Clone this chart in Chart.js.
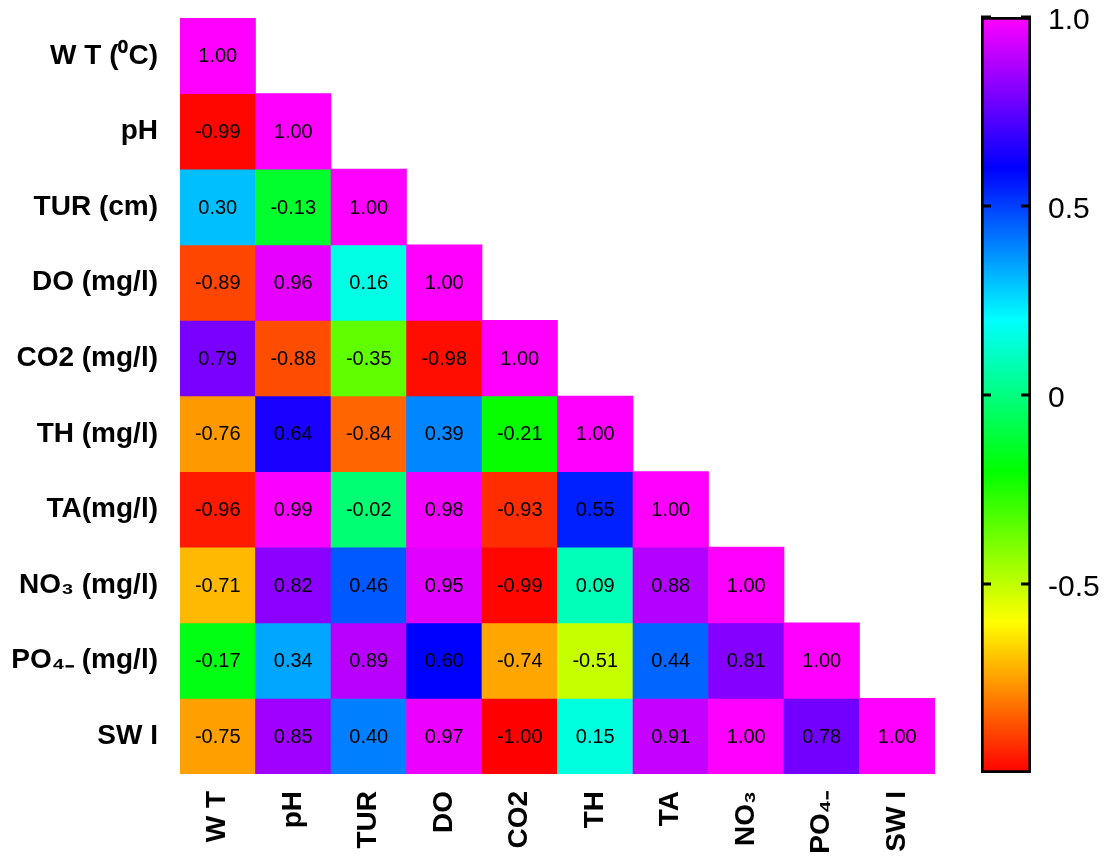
<!DOCTYPE html>
<html>
<head>
<meta charset="utf-8">
<script src="https://cdn.jsdelivr.net/npm/chart.js@4.4.1/dist/chart.umd.min.js"></script>
<style>
    html, body { margin: 0; padding: 0; background: #fff; }
    #wrap { position: relative; width: 1109px; height: 864px; }
    #heat { position: absolute; left: 0; top: 0; }
    #bar { position: absolute; left: 960px; top: 0; }
</style>
</head>
<body>
<div id="wrap">
    <canvas id="heat" width="960" height="864"></canvas>
    <canvas id="bar" width="149" height="864"></canvas>
</div>
<script>
// Row and column names of the correlation matrix
const rowLabels = ['W T (\u2070C)', 'pH', 'TUR (cm)', 'DO (mg/l)', 'CO2 (mg/l)', 'TH (mg/l)',
    'TA(mg/l)', 'NO\u2083 (mg/l)', 'PO\u2084\u208B (mg/l)', 'SW I'];
const colLabels = ['W T', 'pH', 'TUR', 'DO', 'CO2', 'TH', 'TA', 'NO\u2083', 'PO\u2084\u208B', 'SW I'];

// Lower triangle, one array per row
const rWT  = [1.00];
const rPH  = [-0.99, 1.00];
const rTUR = [0.30, -0.13, 1.00];
const rDO  = [-0.89, 0.96, 0.16, 1.00];
const rCO2 = [0.79, -0.88, -0.35, -0.98, 1.00];
const rTH  = [-0.76, 0.64, -0.84, 0.39, -0.21, 1.00];
const rTA  = [-0.96, 0.99, -0.02, 0.98, -0.93, 0.55, 1.00];
const rNO3 = [-0.71, 0.82, 0.46, 0.95, -0.99, 0.09, 0.88, 1.00];
const rPO4 = [-0.17, 0.34, 0.89, 0.60, -0.74, -0.51, 0.44, 0.81, 1.00];
const rSWI = [-0.75, 0.85, 0.40, 0.97, -1.00, 0.15, 0.91, 1.00, 0.78, 1.00];
const matrix = [rWT, rPH, rTUR, rDO, rCO2, rTH, rTA, rNO3, rPO4, rSWI];

// Colour bar ticks
const barTicks = [-0.5, 0, 0.5, 1];

// Rainbow colour map: red (-1) -> yellow -> green -> cyan -> blue -> magenta (1)
const mapStops = [
    [-1.0, [255, 0, 0]],
    [-0.6, [255, 255, 0]],
    [-0.2, [0, 255, 0]],
    [0.2, [0, 255, 255]],
    [0.6, [0, 0, 255]],
    [1.0, [255, 0, 255]]
];

function colorFor(v) {
    for (let k = 1; k < mapStops.length; k++) {
        const [v1, c1] = mapStops[k];
        const [v0, c0] = mapStops[k - 1];
        if (v <= v1 || k === mapStops.length - 1) {
            const t = Math.max(0, Math.min(1, (v - v0) / (v1 - v0)));
            const c = c0.map((x, i) => Math.round(x + (c1[i] - x) * t));
            return `rgb(${c[0]},${c[1]},${c[2]})`;
        }
    }
}

const labelFont = { family: 'Arial, "Liberation Sans", sans-serif', size: 28, weight: 'bold' };

// no extra room for the edge labels, keeps the grid at fixed pixels
function noPad(axis) {
    axis.paddingTop = 0;
    axis.paddingBottom = 0;
    axis.paddingLeft = 0;
    axis.paddingRight = 0;
}

// Each row is a dataset of floating bars spanning [i, i+1]
const datasets = matrix.map((row, i) => ({
    label: rowLabels[i],
    data: colLabels.map((_, j) => j < row.length ? [i, i + 1] : null),
    backgroundColor: colLabels.map((_, j) => j < row.length ? colorFor(row[j]) : 'transparent'),
    borderWidth: 0,
    barPercentage: 1,
    categoryPercentage: 1,
    grouped: false
}));

// Write values inside the cells
const cellText = {
    id: 'cellText',
    afterDatasetsDraw(chart) {
        const ctx = chart.ctx;
        ctx.save();
        ctx.font = '20px Arial, "Liberation Sans", sans-serif';
        ctx.fillStyle = '#000';
        ctx.textAlign = 'center';
        ctx.textBaseline = 'middle';
        matrix.forEach((row, i) => {
            const meta = chart.getDatasetMeta(i);
            row.forEach((v, j) => {
                const pos = meta.data[j].getCenterPoint();
                ctx.fillText(v.toFixed(2), pos.x, pos.y + 1);
            });
        });
        ctx.restore();
    }
};

new Chart(document.getElementById('heat'), {
    type: 'bar',
    data: { labels: colLabels, datasets: datasets },
    options: {
        responsive: false,
        animation: false,
        layout: { padding: { top: 18, right: 25, left: 0, bottom: 0 } },
        plugins: { legend: { display: false }, tooltip: { enabled: false } },
        scales: {
            x: {
                grid: { display: false, drawTicks: false },
                border: { display: false },
                ticks: {
                    color: '#000',
                    font: labelFont,
                    minRotation: 90,
                    maxRotation: 90,
                    autoSkip: false,
                    padding: 17
                },
                afterFit: (axis) => { axis.height = 90; noPad(axis); }
            },
            y: {
                min: 0,
                max: rowLabels.length,
                reverse: true,
                grid: { display: false, drawTicks: false },
                border: { display: false },
                afterBuildTicks: (axis) => {
                    axis.ticks = rowLabels.map((_, i) => ({ value: i + 0.5 }));
                },
                ticks: {
                    color: '#000',
                    font: labelFont,
                    autoSkip: false,
                    padding: 22,
                    callback: (value) => rowLabels[Math.floor(value)]
                },
                afterFit: (axis) => { axis.width = 180; noPad(axis); }
            }
        }
    },
    plugins: [cellText]
});

// Short tick marks inside both edges of the colour bar
const barMarks = {
    id: 'barMarks',
    afterDatasetsDraw(chart) {
        const ctx = chart.ctx;
        const a = chart.chartArea;
        const y = chart.scales.y;
        ctx.save();
        ctx.strokeStyle = '#000';
        ctx.lineWidth = 3;
        barTicks.forEach((t) => {
            const py = y.getPixelForValue(t);
            ctx.beginPath();
            ctx.moveTo(a.left, py);
            ctx.lineTo(a.left + 10, py);
            ctx.moveTo(a.right - 10, py);
            ctx.lineTo(a.right, py);
            ctx.stroke();
        });
        ctx.restore();
    }
};

new Chart(document.getElementById('bar'), {
    type: 'bar',
    data: {
        labels: [''],
        datasets: [{
            data: [[-1, 1]],
            backgroundColor: (c) => {
                const a = c.chart.chartArea;
                if (!a) return null;
                const g = c.chart.ctx.createLinearGradient(0, a.bottom, 0, a.top);
                mapStops.forEach(([v, col]) => {
                    g.addColorStop((v + 1) / 2, `rgb(${col[0]},${col[1]},${col[2]})`);
                });
                return g;
            },
            borderColor: '#000',
            borderWidth: 3,
            borderSkipped: false,
            barPercentage: 1,
            categoryPercentage: 1
        }]
    },
    options: {
        responsive: false,
        animation: false,
        layout: { padding: { top: 17, left: 21, bottom: 91, right: 0 } },
        plugins: { legend: { display: false }, tooltip: { enabled: false } },
        scales: {
            x: { display: false },
            y: {
                position: 'right',
                min: -1,
                max: 1,
                grid: { display: false, drawTicks: false },
                border: { display: false },
                afterBuildTicks: (axis) => {
                    axis.ticks = barTicks.map((v) => ({ value: v }));
                },
                ticks: {
                    color: '#000',
                    // two-line label with a short line height nudges the text a few px below the tick
                    font: { family: 'Arial, "Liberation Sans", sans-serif', size: 30, lineHeight: '8px' },
                    padding: 17,
                    callback: (v) => ['', v === 0 ? '0' : v.toFixed(1)]
                },
                afterFit: (axis) => { axis.width = 78; noPad(axis); }
            }
        }
    },
    plugins: [barMarks]
});
</script>
</body>
</html>
